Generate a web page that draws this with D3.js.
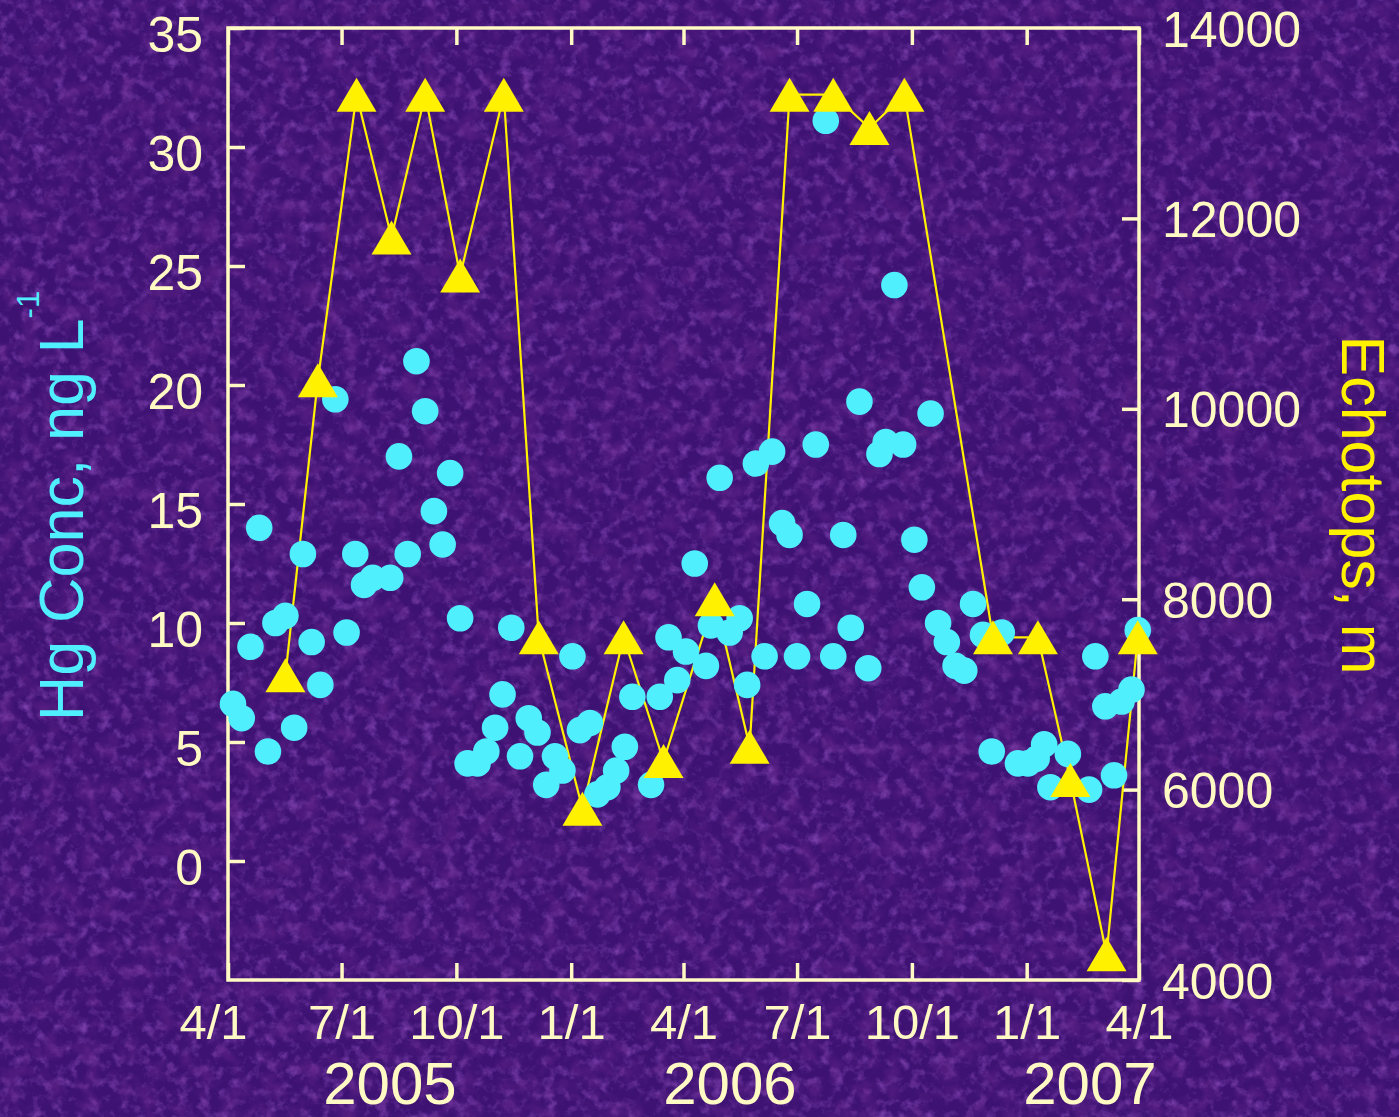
<!DOCTYPE html>
<html lang="en">
<head>
<meta charset="UTF-8">
<title>Hg concentration and echotops, 2005-2007</title>
<script src="https://d3js.org/d3.v7.min.js"></script>
<style>
  body { margin: 0; background: #3d1273; }
  svg { display: block; font-family: "Liberation Sans", Arial, sans-serif; }
  .axis path { display: none; }
  .axis line { stroke: #fff9c4; stroke-width: 3.5; }
  .axis text { fill: #fff9c4; font-size: 50px; }
</style>
</head>
<body>
<svg id="chart" width="1399" height="1117"></svg>
<script>
  // ---- data ----
  const hgDates = ["2005-04-05","2005-04-12","2005-04-19","2005-04-26","2005-05-03","2005-05-09","2005-05-17","2005-05-24","2005-05-31","2005-06-07",
    "2005-06-14","2005-06-26","2005-07-05","2005-07-12","2005-07-19","2005-07-26","2005-08-09","2005-08-16","2005-08-23","2005-08-30",
    "2005-09-06","2005-09-13","2005-09-20","2005-09-26","2005-10-04","2005-10-10","2005-10-18","2005-10-25","2005-11-01","2005-11-07",
    "2005-11-14","2005-11-21","2005-11-28","2005-12-05","2005-12-12","2005-12-19","2005-12-25","2006-01-02","2006-01-08","2006-01-16",
    "2006-01-22","2006-01-30","2006-02-06","2006-02-13","2006-02-19","2006-03-06","2006-03-13","2006-03-20","2006-03-27","2006-04-03",
    "2006-04-10","2006-04-19","2006-04-23","2006-04-30","2006-05-08","2006-05-16","2006-05-22","2006-05-29","2006-06-05","2006-06-11",
    "2006-06-19","2006-06-25","2006-07-01","2006-07-09","2006-07-16","2006-07-24","2006-07-30","2006-08-07","2006-08-13","2006-08-20",
    "2006-08-27","2006-09-05","2006-09-10","2006-09-17","2006-09-24","2006-10-03","2006-10-09","2006-10-16","2006-10-22","2006-10-29",
    "2006-11-05","2006-11-12","2006-11-19","2006-11-27","2006-12-04","2006-12-12","2006-12-25","2007-01-02","2007-01-09","2007-01-15",
    "2007-01-20","2007-02-03","2007-02-20","2007-02-25","2007-03-05","2007-03-12","2007-03-18","2007-03-26","2007-03-31"];
  const hgValues = [6.6,6.0,9.0,14.0,4.6,10.0,10.3,5.6,12.9,9.2,
    7.4,19.4,9.6,12.9,11.6,11.9,11.9,17.0,12.9,21.0,
    18.9,14.7,13.3,16.3,10.2,4.1,4.1,4.6,5.6,7.0,
    9.8,4.4,6.0,5.4,3.2,4.4,3.8,8.6,5.5,5.8,
    2.8,3.1,3.8,4.8,6.9,3.2,6.9,9.4,7.6,8.8,
    12.5,8.2,9.9,16.1,9.6,10.2,7.4,16.7,8.6,17.2,
    14.2,13.7,8.6,10.8,17.5,31.1,8.6,13.7,9.8,19.3,
    8.1,17.1,17.6,24.2,17.5,13.5,11.5,18.8,10.0,9.2,
    8.2,8.0,10.8,9.5,4.6,9.6,4.1,4.1,4.3,4.9,
    3.1,4.5,3.0,8.6,6.5,3.6,6.7,7.2,9.7];

  const echoDates = ["2005-05-17","2005-06-12","2005-07-13","2005-08-10","2005-09-06","2005-10-04","2005-11-08","2005-12-06",
    "2006-01-10","2006-02-12","2006-03-16","2006-04-26","2006-05-24","2006-06-25","2006-07-30","2006-08-28","2006-09-25",
    "2006-12-05","2007-01-10","2007-02-05","2007-03-06","2007-03-31"];
  const echoValues = [7200,10300,13300,11800,13300,11400,13300,7600,
    5800,7600,6300,8000,6450,13300,13300,12950,13300,
    7600,7600,6100,4270,7600];

  const xTickDates = ["2005-04-01","2005-07-01","2005-10-01","2006-01-01","2006-04-01","2006-07-01","2006-10-01","2007-01-01","2007-04-01"];
  const yearLabels = ["2005","2006","2007"];
  const leftTicks = [0,5,10,15,20,25,30,35];
  const rightTicks = [4000,6000,8000,10000,12000,14000];

  // ---- setup ----
  const svg = d3.select("#chart");
  const CREAM = "#fff9c4", CYAN = "#50effd", YELLOW = "#fff100";
  const plot = { left: 228, right: 1139, top: 28, bottom: 980 };
  const parseDate = d3.timeParse("%Y-%m-%d");

  const x = d3.scaleTime()
    .domain([parseDate("2005-04-01"), parseDate("2007-04-01")])
    .range([plot.left, plot.right]);
  const yHg = d3.scaleLinear().domain([-5, 35]).range([plot.bottom, plot.top]);
  const yEcho = d3.scaleLinear().domain([4000, 14000]).range([plot.bottom, plot.top]);

  const hg = hgDates.map((d, i) => ({ date: parseDate(d), value: hgValues[i] }));
  const echo = echoDates.map((d, i) => ({ date: parseDate(d), value: echoValues[i] }));

  // textured purple background (fine grain)
  const defs = svg.append("defs");
  const f1 = defs.append("filter").attr("id", "grainLight")
    .attr("x", 0).attr("y", 0).attr("width", "100%").attr("height", "100%");
  f1.append("feTurbulence").attr("type", "fractalNoise")
    .attr("baseFrequency", 0.09).attr("numOctaves", 4).attr("seed", 7);
  f1.append("feColorMatrix").attr("type", "matrix")
    .attr("values", "0 0 0 0 0.40  0 0 0 0 0.12  0 0 0 0 0.66  1.3 0 0 0 -0.62");
  const f2 = defs.append("filter").attr("id", "grainDark")
    .attr("x", 0).attr("y", 0).attr("width", "100%").attr("height", "100%");
  f2.append("feTurbulence").attr("type", "fractalNoise")
    .attr("baseFrequency", 0.05).attr("numOctaves", 3).attr("seed", 21);
  f2.append("feColorMatrix").attr("type", "matrix")
    .attr("values", "0 0 0 0 0.14  0 0 0 0 0.02  0 0 0 0 0.26  0 1.4 0 0 -0.62");

  svg.append("rect").attr("width", 1399).attr("height", 1117).attr("fill", "#3d1273");
  svg.append("rect").attr("width", 1399).attr("height", 1117).attr("filter", "url(#grainLight)");
  svg.append("rect").attr("width", 1399).attr("height", 1117).attr("filter", "url(#grainDark)");

  // axes (ticks point inward)
  svg.append("g").attr("class", "axis")
    .attr("transform", `translate(${plot.left},0)`)
    .call(d3.axisLeft(yHg).tickValues(leftTicks).tickSizeInner(-17).tickSizeOuter(0).tickPadding(25))
    .selectAll("text").attr("dy", "0.47em");

  svg.append("g").attr("class", "axis")
    .attr("transform", `translate(${plot.right},0)`)
    .call(d3.axisRight(yEcho).tickValues(rightTicks).tickFormat(d3.format("d"))
      .tickSizeInner(-17).tickSizeOuter(0).tickPadding(23))
    .selectAll("text").attr("dy", "0.36em");

  const xAxis = svg.append("g").attr("class", "axis")
    .attr("transform", `translate(0,${plot.bottom})`)
    .call(d3.axisBottom(x).tickValues(xTickDates.map(parseDate))
      .tickFormat(d3.timeFormat("%-m/%-d")).tickSizeInner(-17).tickSizeOuter(0).tickPadding(24));
  xAxis.selectAll("text").style("font-size", "49px");
  // the first date label sits a little left of its tick
  xAxis.select(".tick text").attr("dx", -15);

  svg.append("g").attr("class", "axis")
    .attr("transform", `translate(0,${plot.top})`)
    .call(d3.axisTop(x).tickValues(xTickDates.map(parseDate)).tickSizeInner(-17).tickSizeOuter(0).tickFormat(""));

  // frame
  svg.append("rect")
    .attr("x", plot.left).attr("y", plot.top)
    .attr("width", plot.right - plot.left).attr("height", plot.bottom - plot.top)
    .attr("fill", "none").attr("stroke", CREAM).attr("stroke-width", 3.5);

  // year labels under the date ticks
  const yearCenters = [390, 730, 1090];
  svg.selectAll(".year")
    .data(yearLabels)
    .join("text")
    .attr("class", "year")
    .attr("x", (d, i) => yearCenters[i])
    .attr("y", 1104)
    .attr("text-anchor", "middle")
    .attr("font-size", "60px")
    .attr("fill", CREAM)
    .text(d => d);

  // axis titles
  const hgTitle = svg.append("text")
    .attr("transform", "translate(83,506) rotate(-90)")
    .attr("text-anchor", "middle")
    .attr("font-size", "63px")
    .attr("fill", CYAN);
  hgTitle.append("tspan").text("Hg Conc, ng L");
  hgTitle.append("tspan").attr("font-size", "31px").attr("dy", -44).text("-1");

  svg.append("text")
    .attr("transform", "translate(1342,505) rotate(90)")
    .attr("text-anchor", "middle")
    .attr("font-size", "61px")
    .attr("fill", YELLOW)
    .text("Echotops, m");

  // echotops line (drawn first, under the markers)
  const echoLine = d3.line()
    .x(d => x(d.date))
    .y(d => yEcho(d.value));
  svg.append("path")
    .datum(echo)
    .attr("fill", "none")
    .attr("stroke", YELLOW)
    .attr("stroke-width", 2.2)
    .attr("d", echoLine);

  // Hg points
  svg.append("g")
    .selectAll("circle")
    .data(hg)
    .join("circle")
    .attr("cx", d => x(d.date))
    .attr("cy", d => yHg(d.value))
    .attr("r", 13.3)
    .attr("fill", CYAN);

  // echotops triangles
  svg.append("g")
    .selectAll("path")
    .data(echo)
    .join("path")
    .attr("transform", d => `translate(${x(d.date)},${yEcho(d.value)})`)
    .attr("d", "M0,-17L20,17L-20,17Z")
    .attr("fill", YELLOW);
</script>
</body>
</html>
